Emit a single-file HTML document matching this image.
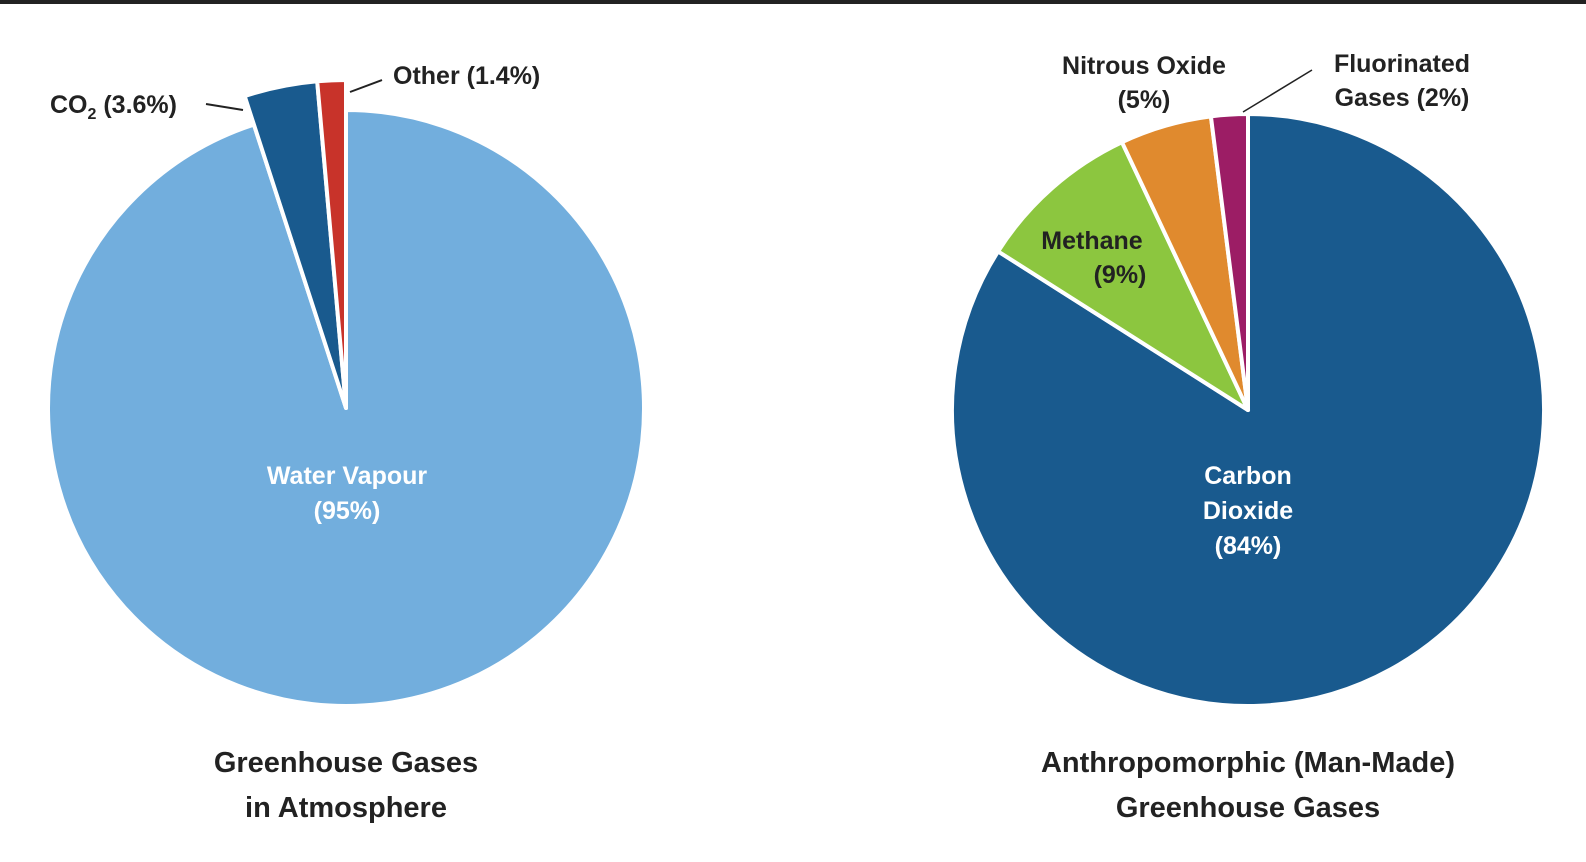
<!DOCTYPE html>
<html><head><meta charset="utf-8"><style>
body{margin:0;background:#fff;width:1586px;height:862px;overflow:hidden;font-family:"Liberation Sans",Arial,sans-serif}
</style></head><body>
<svg id="c" width="1586" height="862" style="position:absolute;left:0;top:0" font-family="Liberation Sans, Arial, sans-serif" font-weight="bold">
<rect x="0" y="0" width="1586" height="4" fill="#222"/>
<g id="left"></g>
<g id="right"></g>
<line x1="206" y1="104" x2="243" y2="110" stroke="#222" stroke-width="2"/>
<line x1="350" y1="92" x2="382" y2="80" stroke="#222" stroke-width="2"/>
<line x1="1243" y1="112" x2="1312" y2="70" stroke="#222" stroke-width="1.5"/>
<text x="50" y="113" font-size="25" fill="#222">CO<tspan font-size="16" dy="6">2</tspan><tspan dy="-6"> (3.6%)</tspan></text>
<text x="393" y="84" font-size="25" fill="#222">Other (1.4%)</text>
<text x="347" y="484" font-size="25" fill="#fff" text-anchor="middle">Water Vapour<tspan x="347" dy="35">(95%)</tspan></text>
<text x="1144" y="74" font-size="25" fill="#222" text-anchor="middle">Nitrous Oxide<tspan x="1144" dy="34">(5%)</tspan></text>
<text x="1402" y="72" font-size="25" fill="#222" text-anchor="middle">Fluorinated<tspan x="1402" dy="34">Gases (2%)</tspan></text>
<text x="1092" y="249" font-size="25" fill="#222" text-anchor="middle">Methane<tspan x="1120" dy="34">(9%)</tspan></text>
<text x="1248" y="484" font-size="25" fill="#fff" text-anchor="middle">Carbon<tspan x="1248" dy="35">Dioxide</tspan><tspan x="1248" dy="35">(84%)</tspan></text>
<text x="346" y="772" font-size="29" fill="#222" text-anchor="middle">Greenhouse Gases<tspan x="346" dy="45">in Atmosphere</tspan></text>
<text x="1248" y="772" font-size="29" fill="#222" text-anchor="middle">Anthropomorphic (Man-Made)<tspan x="1248" dy="45">Greenhouse Gases</tspan></text>
</svg>
<script>
const leftCats=["Water Vapour","CO2","Other"];
const leftVals=[95,3.6,1.4];
const rightCats=["Carbon Dioxide","Methane","Nitrous Oxide","Fluorinated Gases"];
const rightVals=[84,9,5,2];
const leftColors=["#72aedd","#195a8e","#c8332a"];
const rightColors=["#195a8e","#8cc63f","#e08a2e","#9c1d65"];
const NS="http://www.w3.org/2000/svg";
function pie(g,cats,vals,colors,cx,cy,radii,sw){
  const tot=vals.reduce((a,b)=>a+b,0);let a0=0;
  vals.forEach((v,i)=>{
    const a1=a0+v/tot*2*Math.PI, r=radii[i];
    const x0=cx+r*Math.sin(a0),y0=cy-r*Math.cos(a0),x1=cx+r*Math.sin(a1),y1=cy-r*Math.cos(a1);
    const p=document.createElementNS(NS,"path");
    p.setAttribute("d",`M${cx},${cy}L${x0},${y0}A${r},${r} 0 ${a1-a0>Math.PI?1:0} 1 ${x1},${y1}Z`);
    p.setAttribute("fill",colors[i]);p.setAttribute("stroke","#fff");p.setAttribute("stroke-width",sw);
    p.setAttribute("stroke-linejoin","round");
    
    
    g.appendChild(p);a0=a1;
  });
}
pie(document.getElementById("left"),leftCats,leftVals,leftColors,346,408,[298,328,328],4);
pie(document.getElementById("right"),rightCats,rightVals,rightColors,1248,410,[296,296,296,296],4);
</script>
</body></html>
